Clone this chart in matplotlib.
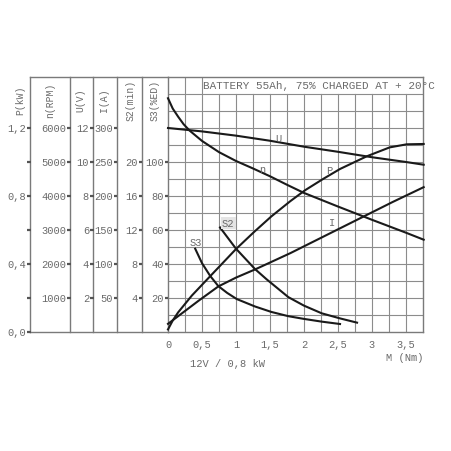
import numpy as np
import matplotlib
matplotlib.use("Agg")
import matplotlib.pyplot as plt

# ---------------- data ----------------
# torque M (Nm) for each series
M_n = [0, 0.07, 0.15, 0.23, 0.32, 0.5, 0.75, 1.0, 1.25, 1.5, 1.75, 2.0, 2.5, 3.0, 3.5, 3.76]
n_rpm = [6875, 6570, 6330, 6110, 5920, 5620, 5290, 5030, 4810, 4580, 4330, 4090, 3690, 3300, 2920, 2715]

M_U = [0, 0.5, 1.0, 1.5, 2.0, 2.5, 3.0, 3.5, 3.76]
U_volt = [12.0, 11.8, 11.55, 11.25, 10.9, 10.6, 10.28, 10.0, 9.84]

M_P = [0, 0.07, 0.15, 0.35, 0.62, 1.0, 1.27, 1.52, 1.8, 2.02, 2.28, 2.53, 2.92, 3.26, 3.51, 3.76]
P_kw = [0.015, 0.068, 0.116, 0.214, 0.328, 0.488, 0.59, 0.68, 0.77, 0.835, 0.9, 0.959, 1.033, 1.086, 1.104, 1.106]

M_I = [0, 0.225, 0.45, 0.74, 1.0, 1.28, 1.8, 2.3, 2.88, 3.3, 3.76]
I_amp = [12, 29, 46, 67, 80, 92, 116, 141, 170, 191, 213]

M_S2 = [0.765, 1.0, 1.28, 1.45, 1.77, 2.0, 2.26, 2.53, 2.78]
S2_min = [12.3, 9.8, 7.4, 6.2, 4.1, 3.1, 2.2, 1.6, 1.1]

M_S3 = [0.4, 0.5, 0.62, 0.74, 0.87, 1.01, 1.28, 1.52, 1.77, 2.0, 2.26, 2.53]
S3_ed = [49, 40.5, 33, 27, 23, 19.4, 15, 11.8, 9.3, 7.7, 6.1, 4.7]

# left scales: tick values and labels
P_ticks = [0.0, 0.4, 0.8, 1.2]
P_ticklabels = ["0,0", "0,4", "0,8", "1,2"]
P_minor = [0.2, 0.6, 1.0]
n_ticks = [1000, 2000, 3000, 4000, 5000, 6000]
U_ticks = [2, 4, 6, 8, 10, 12]
I_ticks = [50, 100, 150, 200, 250, 300]
S2_ticks = [4, 8, 12, 16, 20]
S3_ticks = [20, 40, 60, 80, 100]

M_ticks = [0, 0.5, 1, 1.5, 2, 2.5, 3, 3.5]
M_ticklabels = ["0", "0,5", "1", "1,5", "2", "2,5", "3", "3,5"]

# ---------------- styling ----------------
FONT = "Liberation Mono"
TXT = "#6a6a6a"
GRID = "#8c8c8c"
CURVE = "#1a1a1a"
W = 452.0

fig = plt.figure(figsize=(4.52, 4.52), dpi=100)
fig.patch.set_facecolor("white")

y_bot, y_top = 333.0, 78.0
x_left, x_right = 168.0, 423.0
bottom = (W - y_bot) / W
height = (y_bot - y_top) / W

ax = fig.add_axes([x_left / W, bottom, (x_right - x_left) / W, height])
ax.set_xlim(0, 3.75)
ax.set_ylim(0, 1.5)

# grid
for xv in np.arange(0.25, 3.75, 0.25):
    ymax = 1.0 if xv < 0.6 else 1.4 / 1.5
    ax.axvline(xv, ymin=0, ymax=ymax, color=GRID, lw=0.8, zorder=1)
for yv in np.arange(0.1, 1.45, 0.1):
    ax.axhline(yv, color=GRID, lw=0.8, zorder=1)
for s in ax.spines.values():
    s.set_color("#7a7a7a")
    s.set_linewidth(1.0)

# curves (all scaled to the P axis)
lw = 1.5
ax.plot(M_n, np.array(n_rpm) / 5000.0, color=CURVE, lw=lw, zorder=3, clip_on=False)
ax.plot(M_U, np.array(U_volt) / 10.0, color=CURVE, lw=lw, zorder=3, clip_on=False)
ax.plot(M_P, np.array(P_kw), color=CURVE, lw=lw, zorder=3, clip_on=False)
ax.plot(M_I, np.array(I_amp) / 250.0, color=CURVE, lw=lw, zorder=3, clip_on=False)
ax.plot(M_S2, np.array(S2_min) / 20.0, color=CURVE, lw=lw, zorder=3)
ax.plot(M_S3, np.array(S3_ed) / 100.0, color=CURVE, lw=lw, zorder=3)

fs = 7.5
lab = dict(fontfamily=FONT, color=TXT, fontsize=fs, ha="center", va="center", zorder=4)
ax.text(1.62, 1.14, "U", **lab)
ax.text(1.39, 0.959, "n", **lab)
ax.text(2.37, 0.955, "P", **lab)
ax.text(2.41, 0.645, "I", **lab)
ax.text(0.885, 0.641, "S2", bbox=dict(facecolor="#e4e4e4", edgecolor="none", pad=1.0), **lab)
ax.text(0.407, 0.531, "S3", **lab)

ax.text(0.515, 1.453, "BATTERY 55Ah, 75% CHARGED AT + 20°C", fontfamily=FONT,
        color=TXT, fontsize=7.9, ha="left", va="center", clip_on=False, zorder=4)

ax.set_xticks(M_ticks)
ax.set_xticklabels(M_ticklabels, fontfamily=FONT, color=TXT, fontsize=fs)
ax.tick_params(axis="x", length=0, pad=5)
ax.set_yticks([])
ax.text(3.485, -0.147, "M (Nm)", fontfamily=FONT, color=TXT, fontsize=fs,
        ha="center", va="center", clip_on=False)
ax.text(0.88, -0.182, "12V / 0,8 kW", fontfamily=FONT, color=TXT, fontsize=fs,
        ha="center", va="center", clip_on=False)

# ---------------- left scale panel ----------------
axl = fig.add_axes([30 / W, bottom, (x_left - 30) / W, height])
axl.set_xlim(30, x_left)
axl.set_ylim(0, 1.5)
axl.axis("off")

col_lines = [30, 70, 93, 117, 142]
for xl in col_lines:
    axl.plot([xl, xl], [0, 1.5], color="#7a7a7a", lw=1.0, clip_on=False)
axl.plot([30, x_left], [0, 0], color="#7a7a7a", lw=1.0, clip_on=False)
axl.plot([30, x_left], [1.5, 1.5], color="#7a7a7a", lw=1.0, clip_on=False)

def tick(xline, yv):
    axl.plot([xline - 3, xline + 0.5], [yv, yv], color="#555555", lw=1.6,
             solid_capstyle="butt", clip_on=False)

def col_labels(xline, values, labels, factor):
    for v, s in zip(values, labels):
        yv = v / factor
        axl.text(xline - 4, yv, s, fontfamily=FONT, color=TXT, fontsize=fs,
                 ha="right", va="center", clip_on=False)
        tick(xline, yv)

col_labels(30, P_ticks, P_ticklabels, 1.0)
for v in P_minor:
    tick(30, v)
col_labels(70, n_ticks, [str(v) for v in n_ticks], 5000.0)
col_labels(93, U_ticks, [str(v) for v in U_ticks], 10.0)
col_labels(117, I_ticks, [str(v) for v in I_ticks], 250.0)
col_labels(142, S2_ticks, [str(v) for v in S2_ticks], 20.0)
col_labels(x_left, S3_ticks, [str(v) for v in S3_ticks], 100.0)

heads = [(20.5, "P(kW)"), (50, "n(RPM)"), (80, "U(V)"), (104, "I(A)"),
         (130.5, "S2(min)"), (155, "S3(%ED)")]
for xh, s in heads:
    axl.text(xh, 1.37, s, fontfamily=FONT, color=TXT, fontsize=7.0,
             rotation=90, ha="center", va="center", clip_on=False)

fig.savefig("out.png", dpi=100, facecolor="white")
